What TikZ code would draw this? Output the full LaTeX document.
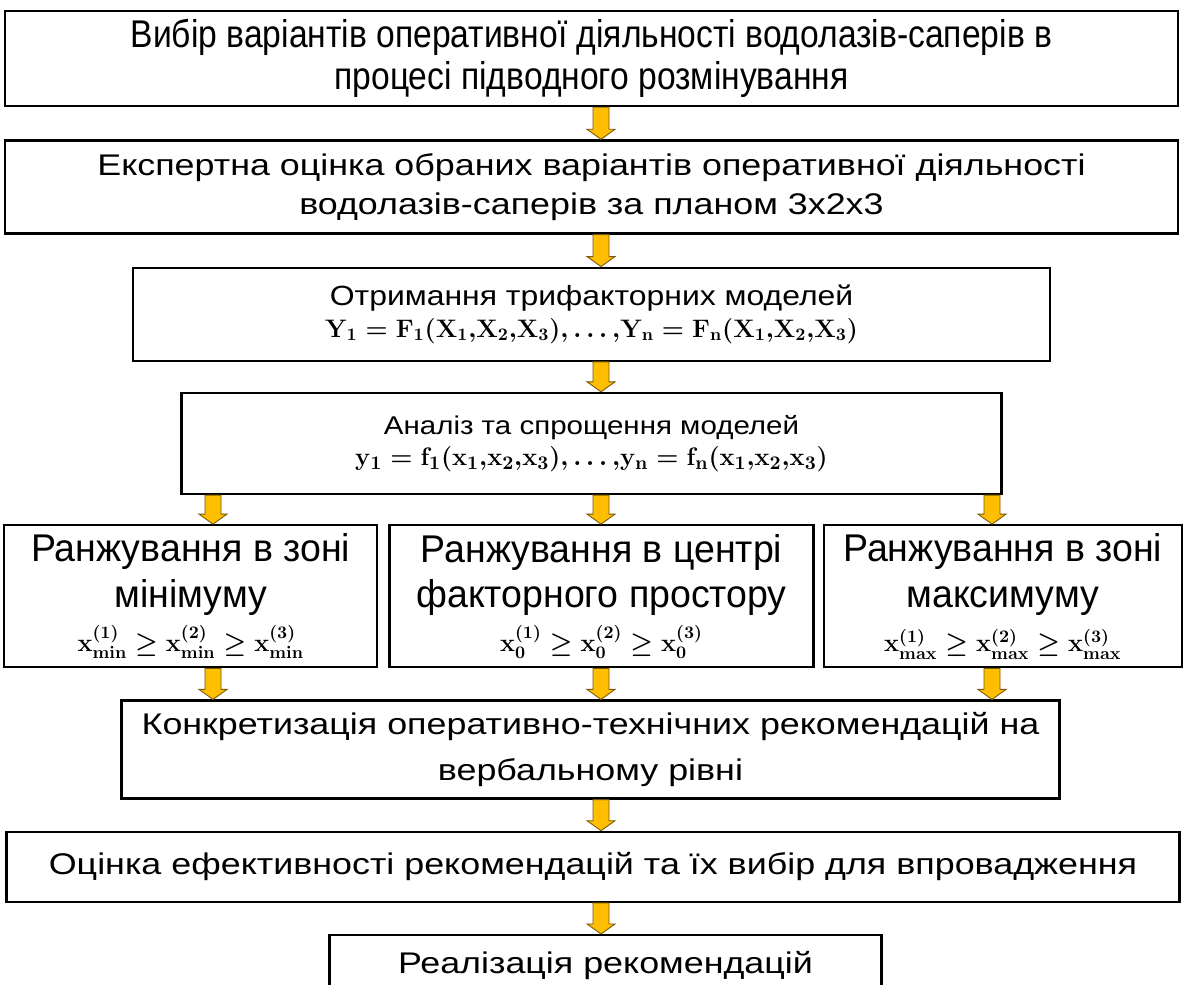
\documentclass[tikz,border=0pt]{standalone}
\usepackage{fontspec}
\setmainfont{Liberation Sans}
\newfontfamily\widesans[FakeStretch=1.2]{Liberation Sans}
\newfontfamily\modelfont[FakeStretch=1.15]{Liberation Sans}
\newfontfamily\narrowsans[FakeStretch=0.87]{Liberation Sans}
\newfontfamily\rankfont[FakeStretch=0.97]{Liberation Sans}
\usepackage{amsmath}
\usetikzlibrary{positioning,calc}
\definecolor{goldfill}{RGB}{255,190,0}
\definecolor{goldedge}{RGB}{120,90,10}
\newcommand{\goldarrow}[2]{%
  \path (#1) coordinate (ga) (#2) coordinate (gb);
  \filldraw[goldarrow] ($(ga)+(-0.16,0)$) -- ($(gb)+(-0.16,0.2)$) -- ($(gb)+(-0.28,0.2)$) -- (gb)
    -- ($(gb)+(0.28,0.2)$) -- ($(gb)+(0.16,0.2)$) -- ($(ga)+(0.16,0)$) -- cycle;}
\newcommand{\formula}[2]{{\fontsize{#1}{#1}\selectfont\boldmath$\mathbf{#2}$}}
\begin{document}
\begin{tikzpicture}[
    node distance=0.62cm,
    every node/.style={font=\widesans\fontsize{17}{22}\selectfont},
    box/.style={draw, line width=1.3pt, align=center, inner sep=2pt, fill=white},
    topbox/.style={box, font=\narrowsans\fontsize{22}{24}\selectfont},
    modelbox/.style={box, font=\modelfont\fontsize{#1}{19}\selectfont},
    rankbox/.style={box, font=\rankfont\fontsize{22}{26}\selectfont, minimum height=2.84cm},
    goldarrow/.style={fill=goldfill, draw=goldedge, line width=0.5pt}
]
\fill[white] (0,0) rectangle (23.7,-19.7);
\useasboundingbox (0,0) rectangle (23.7,-19.7);
\node[topbox, minimum width=23.46cm, minimum height=1.9cm, anchor=north] (choice) at (11.83,-0.2)
    {Вибір варіантів оперативної діяльності водолазів-саперів в\\процесі підводного розмінування};
\node[box, minimum width=23.46cm, minimum height=1.86cm, below=0.64cm of choice] (expert)
    {Експертна оцінка обраних варіантів оперативної діяльності\\водолазів-саперів за планом 3x2x3};
\node[modelbox=15.8, minimum width=18.34cm, minimum height=1.86cm, below=0.64cm of expert] (models)
    {Отримання трифакторних моделей\\[-1pt]
     \formula{14.5}{Y_1=F_1(X_1{,}X_2{,}X_3){,}\ldots{,}Y_n=F_n(X_1{,}X_2{,}X_3)}};
\node[modelbox=14.6, minimum width=16.4cm, minimum height=2.02cm, below=0.6cm of models] (analysis)
    {Аналіз та спрощення моделей\\[-1pt]
     \formula{15}{y_1=f_1(x_1{,}x_2{,}x_3){,}\ldots{,}y_n=f_n(x_1{,}x_2{,}x_3)}};
\node[rankbox, minimum width=8.48cm, below=0.58cm of analysis, xshift=0.2cm] (centre)
    {Ранжування в центрі\\факторного простору\\[-1pt]
     \formula{14}{x^{(1)}_0\ge x^{(2)}_0\ge x^{(3)}_0}};
\node[rankbox, minimum width=7.46cm, left=0.2cm of centre] (minzone)
    {Ранжування в зоні\\мінімуму\\[-1pt]
     \formula{14}{x^{(1)}_{min}\ge x^{(2)}_{min}\ge x^{(3)}_{min}}};
\node[rankbox, minimum width=7.16cm, right=0.16cm of centre] (maxzone)
    {Ранжування в зоні\\максимуму\\[-1pt]
     \formula{14}{x^{(1)}_{max}\ge x^{(2)}_{max}\ge x^{(3)}_{max}}};
\node[box, font=\widesans\fontsize{17}{26}\selectfont, minimum width=18.76cm, minimum height=1.96cm, below=0.62cm of centre, xshift=-0.22cm] (concrete)
    {Конкретизація оперативно-технічних рекомендацій на\\вербальному рівні};
\node[box, minimum width=23.46cm, minimum height=1.4cm, below=0.62cm of concrete, xshift=0.05cm] (efficiency)
    {Оцінка ефективності рекомендацій та їх вибір для впровадження};
\node[box, minimum width=11.04cm, text height=0.7cm, text depth=0.95cm, below=0.62cm of efficiency, xshift=0.25cm] (realize)
    {Реалізація рекомендацій};
\coordinate (axis) at (12.02,0);
\coordinate (colL) at (4.26,0);
\coordinate (colR) at (19.84,0);
\goldarrow{choice.south -| axis}{expert.north -| axis}
\goldarrow{expert.south -| axis}{models.north -| axis}
\goldarrow{models.south -| axis}{analysis.north -| axis}
\goldarrow{analysis.south -| colL}{minzone.north -| colL}
\goldarrow{analysis.south -| axis}{centre.north -| axis}
\goldarrow{analysis.south -| colR}{maxzone.north -| colR}
\goldarrow{minzone.south -| colL}{concrete.north -| colL}
\goldarrow{centre.south -| axis}{concrete.north -| axis}
\goldarrow{maxzone.south -| colR}{concrete.north -| colR}
\goldarrow{concrete.south -| axis}{efficiency.north -| axis}
\goldarrow{efficiency.south -| axis}{realize.north -| axis}
\end{tikzpicture}
\end{document}
